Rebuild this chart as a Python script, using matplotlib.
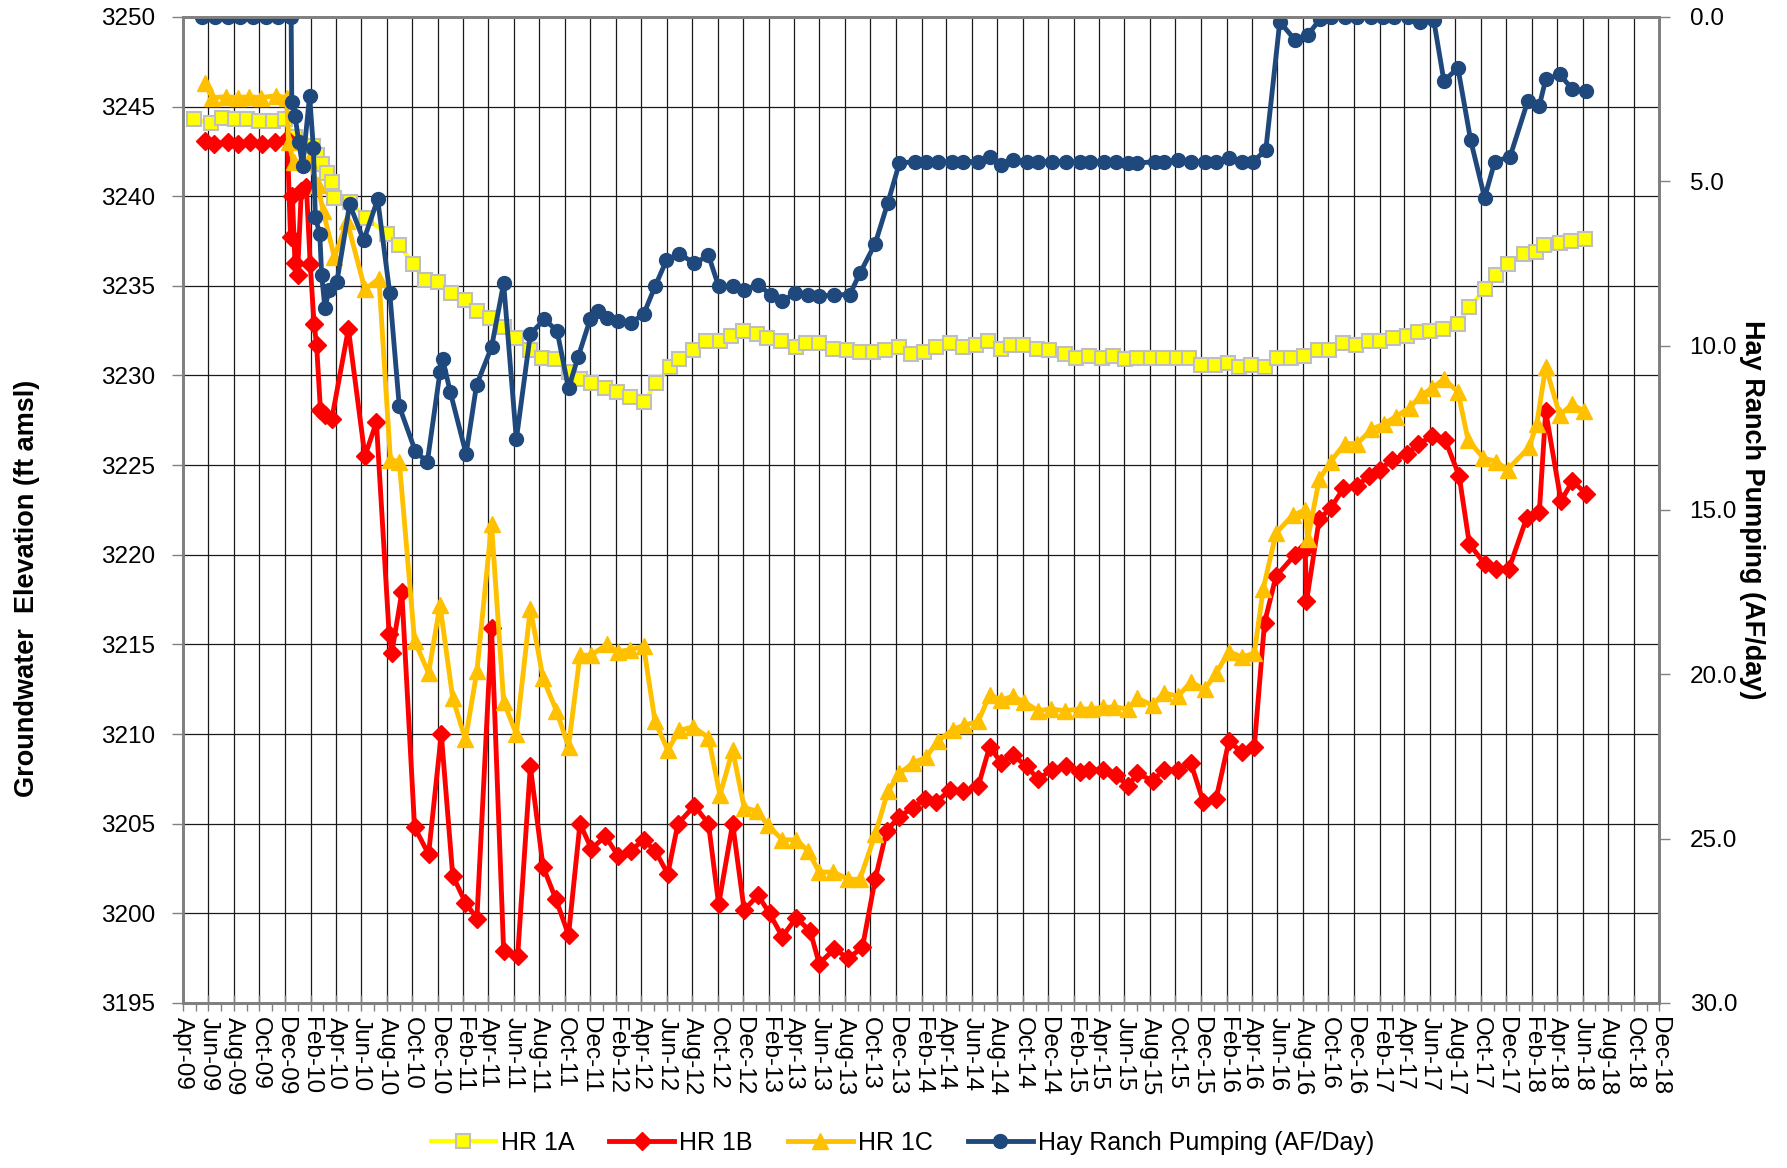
import numpy as np
import pandas as pd
import matplotlib
matplotlib.use('Agg')
import matplotlib.pyplot as plt
import matplotlib.dates as mdates

plt.rcParams['font.family'] = ['Liberation Sans', 'DejaVu Sans']

# time is kept as months since 1 Apr 2009
hr1a_m = [0.9, 2.2, 3.1, 4.1, 5.0, 6.0, 7.1, 8.0, 8.8, 10.2, 10.5, 10.9, 11.3, 11.7, 11.9,
          13.1, 14.4, 16.0, 17.0, 18.1, 19.0, 20.05, 21.1, 22.2, 23.1, 24.1, 25.2, 26.2,
          27.3, 28.2, 29.2, 30.3, 31.2, 32.1, 33.2, 34.1, 35.1, 36.2, 37.2, 38.3, 39.0,
          40.1, 41.1, 42.2, 43.1, 44.0, 45.1, 45.9, 47.0, 48.2, 49.0, 50.0, 51.1, 52.2,
          53.2, 54.2, 55.2, 56.3, 57.2, 58.2, 59.2, 60.3, 61.3, 62.3, 63.3, 64.3, 65.1,
          66.0, 67.1, 68.1, 69.3, 70.2, 71.2, 72.2, 73.1, 74.0, 75.0, 76.1, 77.0, 78.1,
          79.1, 80.0, 81.1, 82.1, 83.0, 83.9, 85.0, 86.0, 87.1, 88.1, 89.2, 90.1, 91.2,
          92.2, 93.2, 94.1, 95.1, 96.2, 97.1, 98.0, 99.0, 100.2, 101.1, 102.3, 103.2,
          104.1, 105.4, 106.3, 107.0, 108.2, 109.1, 110.2]
hr1a = [3244.3, 3244.1, 3244.35, 3244.3, 3244.3, 3244.2, 3244.2, 3244.3, 3243.3, 3242.8,
        3242.3, 3241.8, 3241.3, 3240.8, 3239.9, 3239.7, 3238.8, 3237.9, 3237.3, 3236.2,
        3235.3, 3235.2, 3234.6, 3234.2, 3233.6, 3233.2, 3232.7, 3232.1, 3231.4, 3231.0,
        3230.9, 3230.2, 3229.8, 3229.6, 3229.3, 3229.1, 3228.8, 3228.5, 3229.6, 3230.5,
        3230.9, 3231.4, 3231.9, 3231.9, 3232.2, 3232.5, 3232.3, 3232.1, 3231.9, 3231.6,
        3231.8, 3231.8, 3231.5, 3231.4, 3231.3, 3231.3, 3231.4, 3231.6, 3231.2, 3231.3,
        3231.6, 3231.8, 3231.6, 3231.7, 3231.9, 3231.5, 3231.7, 3231.7, 3231.5, 3231.4,
        3231.2, 3231.0, 3231.1, 3231.0, 3231.1, 3230.9, 3231.0, 3231.0, 3231.0, 3231.0,
        3231.0, 3230.6, 3230.6, 3230.7, 3230.5, 3230.6, 3230.5, 3231.0, 3231.0, 3231.1,
        3231.4, 3231.4, 3231.8, 3231.7, 3231.9, 3231.9, 3232.1, 3232.2, 3232.4, 3232.5,
        3232.6, 3232.9, 3233.8, 3234.8, 3235.6, 3236.2, 3236.8, 3236.9, 3237.3, 3237.4,
        3237.5, 3237.6]

hr1b_m = [1.7, 2.4, 3.5, 4.3, 5.3, 6.2, 7.2, 8.2, 8.45, 8.6, 8.8, 9.0, 9.3, 9.7, 10.0,
          10.3, 10.5, 10.8, 11.2, 11.7, 13.0, 14.3, 15.2, 16.2, 16.4, 17.2, 18.2, 19.3,
          20.3, 21.2, 22.2, 23.1, 24.25, 25.2, 26.3, 27.3, 28.3, 29.3, 30.3, 31.2, 32.1,
          33.2, 34.2, 35.2, 36.2, 37.1, 38.1, 38.9, 40.2, 41.3, 42.1, 43.2, 44.1, 45.2,
          46.1, 47.1, 48.2, 49.3, 50.0, 51.2, 52.3, 53.4, 54.4, 55.3, 56.3, 57.4, 58.3,
          59.2, 60.3, 61.3, 62.5, 63.4, 64.3, 65.2, 66.3, 67.2, 68.3, 69.4, 70.5, 71.2,
          72.3, 73.3, 74.3, 75.0, 76.2, 77.1, 78.2, 79.2, 80.2, 81.2, 82.2, 83.2, 84.2,
          85.0, 85.9, 87.4, 88.2, 88.3, 89.3, 90.2, 91.2, 92.3, 93.2, 94.1, 95.0, 96.2,
          97.1, 98.2, 99.2, 100.3, 101.1, 102.3, 103.2, 104.2, 105.6, 106.6, 107.1, 108.3,
          109.2, 110.3]
hr1b = [3243.1, 3242.9, 3243.0, 3242.9, 3243.0, 3242.9, 3243.0, 3243.2, 3237.7, 3240.0,
        3236.3, 3235.6, 3240.3, 3240.5, 3236.2, 3232.9, 3231.7, 3228.1, 3227.8, 3227.6,
        3232.6, 3225.5, 3227.4, 3215.6, 3214.5, 3217.9, 3204.8, 3203.3, 3210.0, 3202.1,
        3200.6, 3199.7, 3215.9, 3197.9, 3197.6, 3208.2, 3202.6, 3200.8, 3198.8, 3205.0,
        3203.6, 3204.3, 3203.2, 3203.5, 3204.1, 3203.5, 3202.2, 3205.0, 3206.0, 3205.0,
        3200.5, 3205.0, 3200.2, 3201.0, 3200.0, 3198.7, 3199.75, 3199.0, 3197.2, 3198.0,
        3197.5, 3198.1, 3201.9, 3204.6, 3205.4, 3205.9, 3206.4, 3206.2, 3206.9, 3206.8,
        3207.1, 3209.3, 3208.4, 3208.85, 3208.2, 3207.5, 3208.0, 3208.2, 3207.9, 3208.0,
        3208.0, 3207.7, 3207.1, 3207.8, 3207.4, 3208.0, 3208.0, 3208.4, 3206.2, 3206.4,
        3209.6, 3209.0, 3209.3, 3216.2, 3218.8, 3220.0, 3220.3, 3217.4, 3222.0, 3222.6,
        3223.7, 3223.85, 3224.4, 3224.75, 3225.3, 3225.6, 3226.2, 3226.6, 3226.4, 3224.4,
        3220.6, 3219.5, 3219.2, 3219.2, 3222.05, 3222.4, 3228.0, 3223.0, 3224.1, 3223.4]

hr1c_m = [1.7, 2.3, 3.4, 4.3, 5.2, 6.1, 7.3, 8.15, 8.3, 8.7, 9.9, 10.6, 11.0, 11.9, 12.9,
          14.3, 15.4, 16.3, 17.0, 18.2, 19.3, 20.2, 21.2, 22.2, 23.1, 24.25, 25.2, 26.2,
          27.3, 28.3, 29.35, 30.3, 31.2, 32.1, 33.3, 34.2, 35.1, 36.2, 37.1, 38.1, 39.0,
          40.1, 41.3, 42.2, 43.2, 44.1, 45.1, 46.0, 47.1, 48.2, 49.1, 50.0, 51.1, 52.3,
          53.2, 54.4, 55.4, 56.3, 57.4, 58.4, 59.3, 60.5, 61.4, 62.5, 63.4, 64.3, 65.2,
          66.1, 67.2, 68.2, 69.3, 70.5, 71.4, 72.3, 73.2, 74.3, 75.0, 76.2, 77.1, 78.2,
          79.2, 80.3, 81.2, 82.2, 83.2, 84.2, 84.9, 85.9, 87.2, 88.2, 88.4, 89.3, 90.2,
          91.3, 92.3, 93.4, 94.4, 95.3, 96.4, 97.3, 98.2, 99.1, 100.2, 101.0, 102.2, 103.2,
          104.1, 105.8, 106.4, 107.1, 108.2, 109.2, 110.1]
hr1c = [3246.3, 3245.5, 3245.55, 3245.5, 3245.55, 3245.5, 3245.6, 3245.5, 3243.0, 3241.9,
        3242.0, 3240.6, 3239.2, 3236.6, 3238.6, 3234.8, 3235.4, 3225.3, 3225.2, 3215.2,
        3213.4, 3217.2, 3212.0, 3209.7, 3213.5, 3221.7, 3211.8, 3210.0, 3217.0, 3213.1,
        3211.3, 3209.3, 3214.4, 3214.4, 3215.0, 3214.6, 3214.7, 3214.9, 3210.7, 3209.1,
        3210.2, 3210.4, 3209.8, 3206.6, 3209.1, 3205.9, 3205.7, 3204.9, 3204.1, 3204.1,
        3203.5, 3202.3, 3202.3, 3201.9, 3201.9, 3204.4, 3206.8, 3207.8, 3208.4, 3208.7,
        3209.6, 3210.25, 3210.5, 3210.7, 3212.2, 3211.9, 3212.1, 3211.8, 3211.3, 3211.4,
        3211.3, 3211.4, 3211.4, 3211.5, 3211.5, 3211.4, 3212.0, 3211.6, 3212.3, 3212.1,
        3212.9, 3212.5, 3213.4, 3214.6, 3214.3, 3214.5, 3218.1, 3221.2, 3222.2, 3222.5,
        3220.9, 3224.2, 3225.2, 3226.2, 3226.2, 3227.0, 3227.3, 3227.7, 3228.2, 3228.9,
        3229.3, 3229.8, 3229.1, 3226.4, 3225.4, 3225.2, 3224.75, 3226.0, 3227.3, 3230.5,
        3227.8, 3228.4, 3228.0]

hay_m = [1.5, 2.5, 3.5, 4.5, 5.5, 6.5, 7.5, 8.5, 8.55, 8.8, 9.1, 9.4, 9.95, 10.25, 10.4,
         10.75, 10.9, 11.15, 11.5, 12.1, 13.1, 14.2, 15.3, 16.25, 17.0, 18.25, 19.2, 20.2,
         20.4, 21.0, 22.25, 23.07, 24.25, 25.2, 26.2, 27.3, 28.4, 29.4, 30.3, 31.05, 32.0,
         32.6, 33.3, 34.2, 35.2, 36.2, 37.1, 38.0, 39.0, 40.2, 41.3, 42.1, 43.2, 44.1,
         45.2, 46.2, 47.1, 48.1, 49.1, 50.0, 51.2, 52.4, 53.2, 54.4, 55.4, 56.3, 57.5,
         58.4, 59.3, 60.4, 61.3, 62.5, 63.4, 64.3, 65.2, 66.3, 67.2, 68.3, 69.4, 70.5,
         71.3, 72.4, 73.3, 74.3, 75.0, 76.4, 77.1, 78.2, 79.2, 80.3, 81.2, 82.2, 83.2,
         84.1, 85.1, 86.2, 87.4, 88.4, 89.4, 90.2, 91.3, 92.3, 93.4, 94.3, 95.2, 96.3,
         97.2, 98.3, 99.1, 100.2, 101.2, 102.3, 103.1, 104.3, 105.7, 106.6, 107.1, 108.2,
         109.2, 110.3]
hay = [0.0, 0.0, 0.0, 0.0, 0.0, 0.0, 0.0, 0.0, 2.6, 3.0, 3.8, 4.55, 2.4, 4.0, 6.1, 6.6,
       7.85, 8.85, 8.3, 8.05, 5.7, 6.8, 5.55, 8.4, 11.85, 13.2, 13.55, 10.8, 10.4, 11.4,
       13.3, 11.2, 10.05, 8.1, 12.85, 9.65, 9.2, 9.55, 11.3, 10.35, 9.2, 8.95, 9.15, 9.25,
       9.3, 9.05, 8.2, 7.4, 7.2, 7.5, 7.25, 8.2, 8.2, 8.3, 8.15, 8.45, 8.65, 8.4, 8.45,
       8.5, 8.45, 8.45, 7.8, 6.9, 5.65, 4.45, 4.4, 4.4, 4.4, 4.4, 4.4, 4.4, 4.25, 4.5,
       4.35, 4.4, 4.4, 4.4, 4.4, 4.4, 4.4, 4.4, 4.4, 4.45, 4.45, 4.4, 4.4, 4.35, 4.4, 4.4,
       4.4, 4.3, 4.4, 4.4, 4.05, 0.15, 0.7, 0.55, 0.05, 0.0, 0.0, 0.0, 0.0, 0.0, 0.0,
       0.0, 0.15, 0.1, 1.95, 1.55, 3.75, 5.5, 4.4, 4.25, 2.55, 2.7, 1.9, 1.75, 2.2, 2.25]

start = pd.Timestamp('2009-04-01')
def to_dates(months):
    return start + pd.to_timedelta(np.asarray(months) * 30.4375, unit='D')

fig = plt.figure(figsize=(17.87, 11.68), dpi=100)
ax = fig.add_axes([0.1024, 0.1413, 0.826, 0.8442])

ax.plot(to_dates(hr1a_m), hr1a, color='#FFFF00', lw=3, marker='s', ms=10,
        mfc='#FFFF00', mec='#BFBFBF', mew=1.5, label='HR 1A')
ax.plot(to_dates(hr1b_m), hr1b, color='#FF0000', lw=3.5, marker='D', ms=9,
        mfc='#FF0000', mec='#FF0000', label='HR 1B')
ax.plot(to_dates(hr1c_m), hr1c, color='#FFC000', lw=3.5, marker='^', ms=12,
        mfc='#FFC000', mec='#FFC000', label='HR 1C')

ax2 = ax.twinx()
ax2.plot(to_dates(hay_m), hay, color='#1F497D', lw=3.5, marker='o', ms=10,
         mfc='#1F497D', mec='#1F497D', label='Hay Ranch Pumping (AF/Day)')

ax.set_xlim(pd.Timestamp('2009-04-01'), pd.Timestamp('2018-12-01'))
ax.set_ylim(3195, 3250)
ax.set_yticks(np.arange(3195, 3251, 5))
ax2.set_ylim(30, 0)
ax2.set_yticks(np.arange(0, 31, 5))
ax2.yaxis.set_major_formatter(plt.FormatStrFormatter('%.1f'))

ax.xaxis.set_major_locator(mdates.MonthLocator(bymonth=[2, 4, 6, 8, 10, 12]))
ax.xaxis.set_minor_locator(mdates.MonthLocator())
ax.xaxis.set_major_formatter(mdates.DateFormatter('%b-%y'))

ax.grid(True, which='major', color='#1a1a1a', lw=0.9)
ax.set_axisbelow(True)

for a in (ax, ax2):
    for s in a.spines.values():
        s.set_color('#808080')
        s.set_linewidth(2)

ax.tick_params(axis='y', which='major', direction='out', length=8, width=1,
               color='#808080', pad=12, labelsize=17.5)
ax2.tick_params(axis='y', which='major', direction='out', length=8, width=1,
                color='#808080', pad=14, labelsize=17.5)
ax.tick_params(axis='x', which='major', direction='inout', length=12, width=1,
               color='#808080', pad=4, labelsize=17.5, labelrotation=270)
ax.tick_params(axis='x', which='minor', direction='out', length=6, width=1,
               color='#808080')

title_font = dict(family=['Liberation Sans Narrow', 'Liberation Sans'], weight='bold',
                  size=19.5)
ax.set_ylabel('Groundwater  Elevation (ft amsl)', fontdict=title_font)
ax.yaxis.set_label_coords(-0.097, 0.42)
ax2.set_ylabel('Hay Ranch Pumping (AF/day)', fontdict=title_font, rotation=270,
               labelpad=20)

handles = ax.get_lines() + ax2.get_lines()
fig.legend(handles, [h.get_label() for h in handles], loc='lower center',
           bbox_to_anchor=(0.505, -0.008), ncol=4, frameon=False, fontsize=18,
           handlelength=2.6, columnspacing=1.4, handletextpad=0.2)

fig.savefig('out.png', dpi=100)
